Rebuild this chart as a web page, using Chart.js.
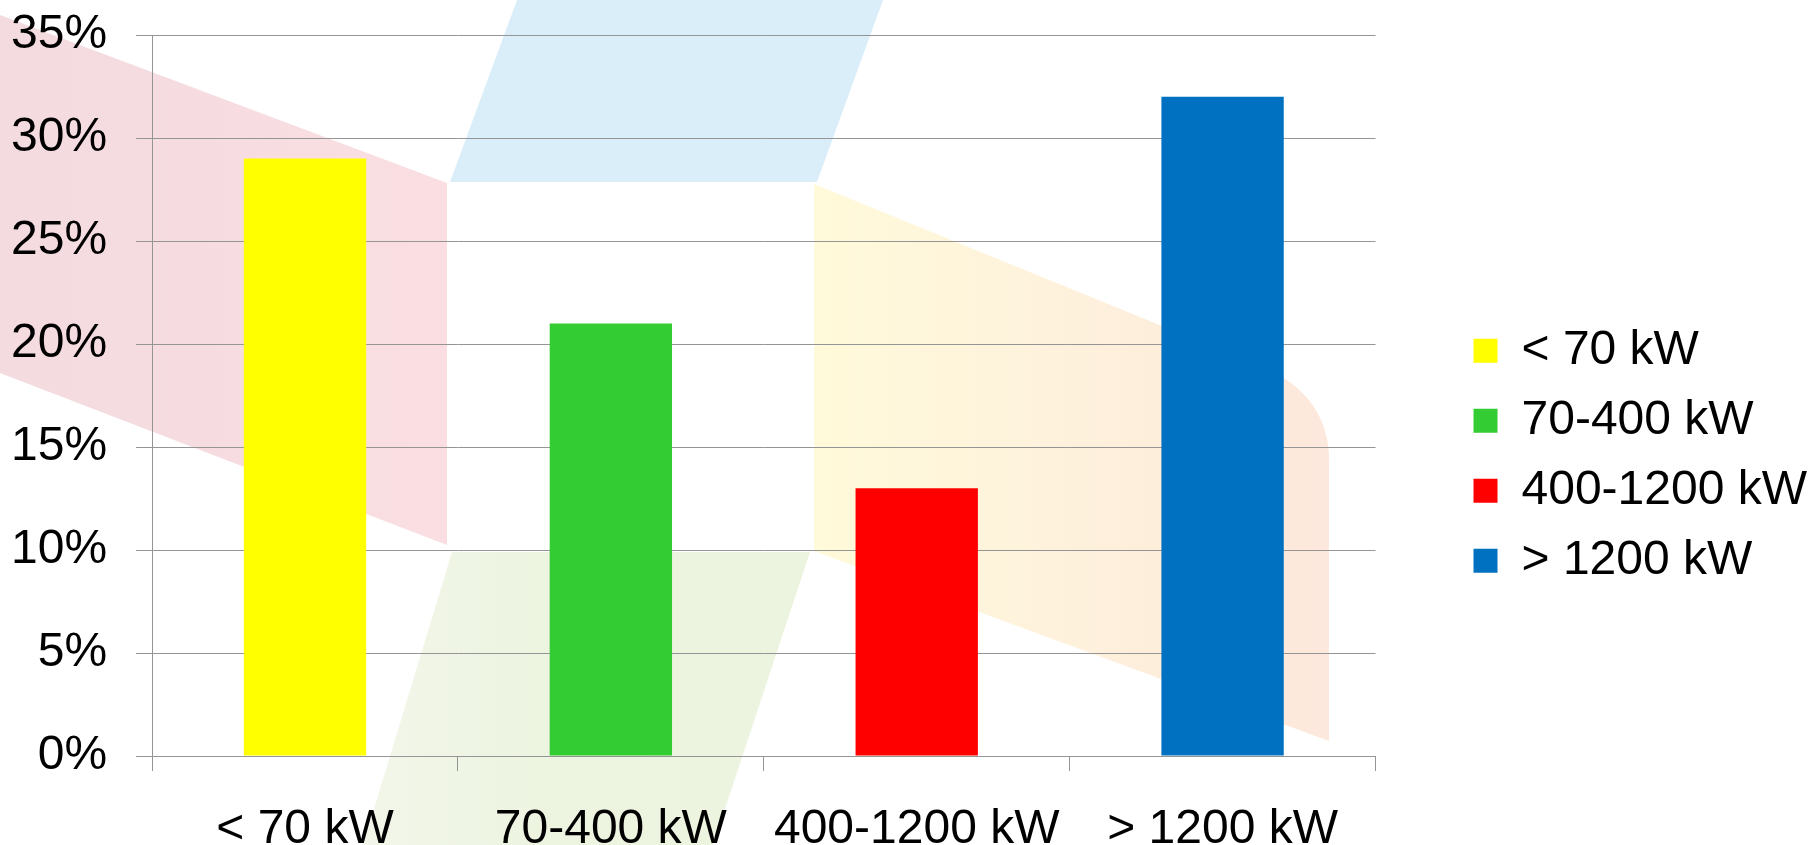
<!DOCTYPE html>
<html>
<head>
<meta charset="utf-8">
<script src="https://cdn.jsdelivr.net/npm/chart.js@4"></script>
<style>
  html, body { margin: 0; padding: 0; background: #fff; }
  #wrap { width: 1817px; height: 845px; position: relative; }
</style>
</head>
<body>
<div id="wrap"><canvas id="powerChart"></canvas></div>
<script>
// categories and values
const categories = ['< 70 kW', '70-400 kW', '400-1200 kW', '> 1200 kW'];
const shares = [29, 21, 13, 32];
const barColors = ['#FFFF00', '#33CC33', '#FF0000', '#0070C0'];
const yTicks = [0, 5, 10, 15, 20, 25, 30, 35];

const FONT = 'Liberation Sans, Arial, sans-serif';

// faint logo-like shapes behind the plot
const watermark = {
    id: 'watermark',
    beforeDraw(chart) {
        const ctx = chart.ctx;
        ctx.save();
        const poly = (pts, fill) => {
            ctx.beginPath();
            ctx.moveTo(pts[0][0], pts[0][1]);
            for (let i = 1; i < pts.length; i++) ctx.lineTo(pts[i][0], pts[i][1]);
            ctx.closePath();
            ctx.fillStyle = fill;
            ctx.fill();
        };
        // pink
        const pink = ctx.createLinearGradient(0, 0, 447, 0);
        pink.addColorStop(0, 'rgb(243,219,223)');
        pink.addColorStop(1, 'rgb(250,222,226)');
        poly([[0, 15], [447, 183], [447, 545], [0, 373]], pink);
        // blue
        poly([[517, 0], [883, 0], [817, 182], [450, 182]], 'rgb(217,238,249)');
        // green
        const green = ctx.createLinearGradient(360, 0, 811, 0);
        green.addColorStop(0, 'rgb(242,246,234)');
        green.addColorStop(0.4, 'rgb(237,244,224)');
        green.addColorStop(1, 'rgb(236,243,222)');
        poly([[452, 552], [810, 552], [713, 845], [363, 845]], green);
        // yellow / orange
        const warm = ctx.createLinearGradient(814, 0, 1330, 0);
        warm.addColorStop(0, 'rgb(255,250,218)');
        warm.addColorStop(0.45, 'rgb(254,242,220)');
        warm.addColorStop(1, 'rgb(252,232,220)');
        ctx.beginPath();
        ctx.moveTo(814, 184);
        ctx.lineTo(1270, 370);
        ctx.quadraticCurveTo(1329, 400, 1329, 460);
        ctx.lineTo(1329, 741);
        ctx.lineTo(814, 551);
        ctx.closePath();
        ctx.fillStyle = warm;
        ctx.fill();
        ctx.restore();
    }
};

function initializeChart() {
    const ctx = document.getElementById('powerChart');
    new Chart(ctx, {
        type: 'bar',
        data: {
            labels: categories,
            datasets: [{
                label: 'share',
                data: shares,
                backgroundColor: barColors,
                borderWidth: 0,
                barPercentage: 0.4,
                categoryPercentage: 1.0
            }]
        },
        plugins: [watermark],
        options: {
            responsive: true,
            maintainAspectRatio: false,
            animation: false,
            layout: {
                padding: { left: -18, top: 0, right: 0, bottom: -44 }
            },
            plugins: {
                tooltip: { enabled: false },
                legend: {
                    position: 'right',
                    maxWidth: 420,
                    title: { display: true, text: ' ', padding: 4, font: { size: 12 } },
                    labels: {
                        boxWidth: 24,
                        boxHeight: 24,
                        padding: 22,
                        color: '#000',
                        font: { family: FONT, size: 48 },
                        generateLabels: function() {
                            return categories.map((c, i) => ({
                                text: c,
                                fillStyle: barColors[i],
                                strokeStyle: barColors[i],
                                fontColor: '#000',
                                lineWidth: 0,
                                hidden: false,
                                index: i
                            }));
                        }
                    }
                }
            },
            scales: {
                x: {
                    grid: {
                        offset: true,
                        drawOnChartArea: false,
                        drawTicks: true,
                        tickLength: 15,
                        color: '#959595'
                    },
                    border: { display: true, color: '#959595' },
                    ticks: {
                        color: '#000',
                        padding: 35,
                        maxRotation: 0,
                        font: { family: FONT, size: 48, lineHeight: 1 }
                    }
                },
                y: {
                    min: 0,
                    max: 35,
                    afterBuildTicks: function(scale) {
                        scale.ticks = yTicks.map(v => ({ value: v }));
                    },
                    afterFit: function(scale) { scale.paddingTop = 35; },
                    grid: {
                        color: '#959595',
                        tickLength: 16,
                        drawTicks: true
                    },
                    border: { display: true, color: '#959595' },
                    ticks: {
                        color: '#000',
                        padding: 29,
                        font: { family: FONT, size: 48 },
                        callback: function(v) { return v + '%'; }
                    }
                },
                // empty band between the plot and the legend
                gap: {
                    position: 'right',
                    display: true,
                    grid: { display: false },
                    border: { display: false },
                    ticks: { display: false },
                    afterFit: function(scale) { scale.width = 76; }
                }
            }
        }
    });
}

if (document.readyState === 'loading') {
    document.addEventListener('DOMContentLoaded', initializeChart);
} else {
    initializeChart();
}
</script>
</body>
</html>
